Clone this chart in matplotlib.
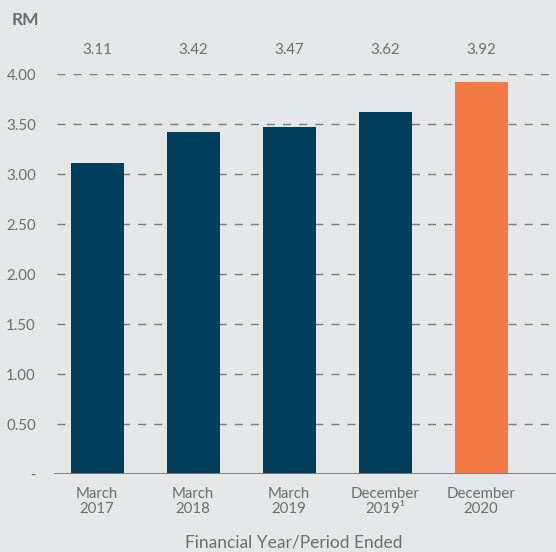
import matplotlib
matplotlib.use('Agg')
import matplotlib.pyplot as plt

# Net assets per share, RM
periods = ['March\n2017', 'March\n2018', 'March\n2019', 'December\n2019¹', 'December\n2020']
values = [3.11, 3.42, 3.47, 3.62, 3.92]
bar_colors = ['#003f5c', '#003f5c', '#003f5c', '#003f5c', '#f47a44']
yticks = [0, 0.5, 1.0, 1.5, 2.0, 2.5, 3.0, 3.5, 4.0]
ytick_labels = ['-', '0.50', '1.00', '1.50', '2.00', '2.50', '3.00', '3.50', '4.00']

bg = '#e6e7e9'
txt = '#6d6e71'
plt.rcParams['font.family'] = ['Lato', 'DejaVu Sans']

fig = plt.figure(figsize=(5.56, 5.52), dpi=100, facecolor=bg)
ax = fig.add_axes([54 / 556, 1 - 474 / 552, 1 - 54 / 556, 400 / 552])
ax.set_facecolor(bg)

x = range(len(values))
ax.bar(x, values, width=0.55, color=bar_colors, zorder=3)

# dashed grid behind the bars
for y in yticks[1:]:
    ax.plot([-0.42, 4.78], [y, y], color='#7a7b7d', lw=1.0, dashes=(5.8, 5.8),
            zorder=1)
ax.axhline(0, color='#7a7b7d', lw=1.3, zorder=4)

for i, v in enumerate(values):
    ax.text(i, 4.24, f'{v:.2f}', ha='center', va='center', fontsize=10.8,
            color=txt, clip_on=False)

ax.set_xlim(-0.45, 4.78)
ax.set_ylim(0, 4.0)
ax.set_yticks(yticks)
ax.set_yticklabels(ytick_labels)
ax.set_xticks(list(x))
ax.set_xticklabels(periods, linespacing=1.1)
ax.tick_params(axis='y', length=0, pad=13, labelsize=10.8, labelcolor=txt)
ax.tick_params(axis='x', length=0, pad=9, labelsize=10.8, labelcolor=txt)
for s in ax.spines.values():
    s.set_visible(False)

fig.text(12 / 556, 1 - 20 / 552, 'RM', fontsize=12.5, fontweight='bold',
         color=txt, ha='left', va='center')
fig.text(294 / 556, 1 - 542 / 552, 'Financial Year/Period Ended', fontsize=12.5,
         color=txt, ha='center', va='center')

fig.savefig('out.png', dpi=100, facecolor=bg)
